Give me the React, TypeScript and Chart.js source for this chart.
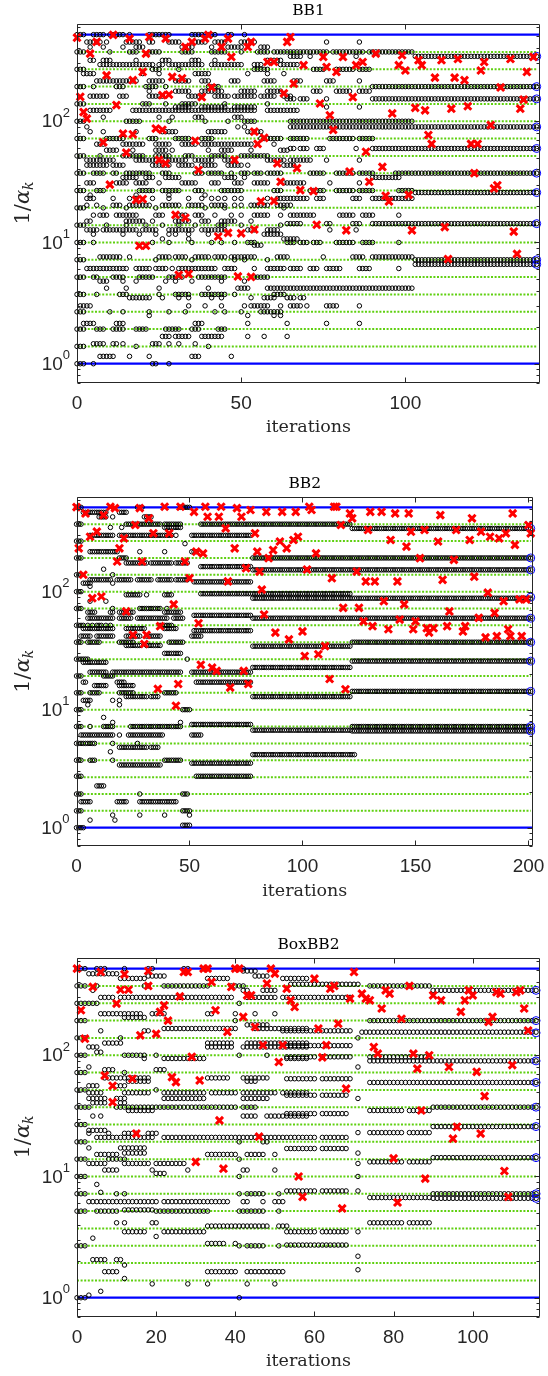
import React, { useEffect, useRef } from "react";
import { Chart, registerables } from "chart.js";

Chart.register(...registerables);

// ---------------- data ----------------
const eigenvalues = [1, 1.39, 1.93, 2.68, 3.73, 5.18, 7.2, 10, 13.9, 19.3, 26.8, 37.3, 51.8, 72, 100, 139, 193, 268, 373, 518];
const finalRitzValues = [343, 193, 153, 89.8, 59.6, 37.3, 25.8, 14.3, 7.2, 6.6];

const yMajorTicks = [1, 10, 100];
const yMajorExponents = ["0", "1", "2"];
const yMinorTicks = [0.7, 0.8, 0.9, 2, 3, 4, 5, 6, 7, 8, 9, 20, 30, 40, 50, 60, 70, 80, 90, 200, 300, 400, 500, 600];

const bb1XTicks = [0, 50, 100];
const bb2XTicks = [0, 50, 100, 150, 200];
const boxXTicks = [0, 20, 40, 60, 80, 100];

// Ritz values: [value, iterations where a circle sits at that value]
const bb1Ritz: [number, string][] = [
  [518, "0-2,5-8,10-14,16,22-28,35-39,40-42,46-47,51"],
  [450, "3-7,9,15-19,22-23,28-31,36-39,42-45,50-54,76,86"],
  [409, "4,8,14,18-20,32-35,41,46-50,56-58"],
  [373, "0-2,10,16-18,22-25,32-35,41-45,50,55-58,60-76,78-87,89-102"],
  [343, "65-68,71,85,103-140"],
  [318, "4-5,8-10,18,26-28,35-37,42,58-62"],
  [293, "7-23,25-26,28-38,41-50,54-56,62-67"],
  [268, "0-2,23-25,31,54-58,72-75,79-84,86-89"],
  [247, "2-5,20,25,36-40,52,58,63"],
  [215, "6-18,22-26,30-34,38-40,47-49,57-60,66-68,76-78,86"],
  [193, "0-2,5,12-14,21-24,27,40-43,90-140"],
  [177, "22,30-34,38-44,50-54,58-62,72-74,79-83,86-89"],
  [161, "4-9,13-15,22-26,34-38,42-46,48-54,56-60,63-65"],
  [153, "64-66,68-70,76,90-140"],
  [139, "0-2,20-22,27,32-36,45,58"],
  [131, "30-34,38-45,48-54,76,86"],
  [123, "4-10,17-28,29-54,58-67"],
  [108, "8,25,29,36-38,48-50"],
  [100, "0-2,15-19,28,39,46,51-54,65-102"],
  [89.8, "3,49,51,65-140"],
  [82, "4,8,18,26-30,40-45,52-56"],
  [72, "0-2,9-14,22-24,30-34,38-41,56-62,65-70,77-84,86-90"],
  [64.7, "6-8,14-20,24-28,32-36,38-53,60"],
  [59.6, "65-66,68-70,73-75,85,90-140"],
  [57.7, "9-12,17,24-27,29,40,44-47,53,62-64"],
  [51.8, "0-2,7,14-20,24-28,33-35,41-45,50-58"],
  [47.8, "3-11,18-24,27-33,36-41,45-48,58-63,65-71,76,86"],
  [43.4, "3-9,11-14,23-28,31-35,38-42,46-50,52,63-66"],
  [37.3, "0-2,5-8,11-12,15-22,26-28,36-38,40-44,47,50-52,54-56,58-62,71-75,79-84,86-90,97-140"],
  [34.4, "14-18,21-23,27-31,45-48,51,90-98"],
  [31, "3-5,12-15,18-21,25,32-36,41-43,48-50,54-58,63-69,77,86"],
  [26.8, "0-2,6-8,19-23,26-31,36-38,44-50,60-62,71-75,79-84,86-90,98-102"],
  [25.8, "103-140"],
  [24.6, "4,18,28,39"],
  [23.1, "3-5,11,16,18,23,28,34,38,41,43,45,48,50,58,61-70,73-75,84-86,90-97,98-102"],
  [20.3, "3,6,11-13,16-22,26-31,34-38,41-45,48,50,53-58,61-65"],
  [19.3, "0-2,8,15,24,39,45,63"],
  [16.8, "5,7-9,12-18,24-26,31-33,36-38,42,47,50,54-58,62,65-72,80-84,87-90,98"],
  [15, "3-4,15-20,23,30-34,38-40,44-48,53"],
  [14.3, "64-68,76-77,84-86,90-140"],
  [13.9, "0-2,9,15,21,26,31,36,43-45,50,62"],
  [12.7, "3-6,8-18,20-24,28-35,38-45,52-54,58-61,77,85"],
  [11.7, "5,14,19,24,28,30,34,40,57-62"],
  [10.7, "26,34,63-67"],
  [10, "0-2,5,23,28,35,41,44,48,52-54,64-66,68-70,72-74,79-84,87-90,98"],
  [9.5, "54-56"],
  [7.6, "7-13,16,25-28,30-33,36-40,42-45,47-54,61-64,75,84-87,90-102"],
  [7.2, "0-2,24,35,48,51,58,103-140"],
  [6.6, "103-140"],
  [6.1, "3-15,18-22,24-27,29,31-42,45-48,54,58-63,65-68,71-73,76-80,86-89,98"],
  [5.18, "0-2,5-6,11-14,19-23,28-32,37-45,54-58"],
  [4.8, "7-9,14,18,27,30,35,44,51"],
  [4.2, "9,15,25,40,49-52,58-102"],
  [3.73, "0-2,6,13-15,25,30-34,38-45,48,60-63"],
  [3.5, "16-22,26,31,34,41,44,53,57-60,64-66,68-69"],
  [3.0, "1-4,34,39,44,51,53-58,62,65-68,70,76-79,86"],
  [2.68, "0-2,10,14,22,28,33,42,45,50,56-62"],
  [2.5, "22,52,60,62"],
  [2.15, "2-5,12-14,36-38,52,64,76,86"],
  [1.93, "0-2,6-8,11-14,18-21,27-31,35-37,43-45"],
  [1.68, "26-28,30-34,38-44,52,57,64"],
  [1.46, "5-8,11-12,14,23-25,28,31,36"],
  [1.39, "0-2,18,40"],
  [1.15, "7-11,16,22,35-37,47"],
  [1.0, "0-2,5,23-24,28"],
];

// step lengths 1/alpha_k: [iteration, value]
const bb1Steps: [number, number][] = [
  [0, 489], [1, 159], [2, 119], [3, 105], [4, 361], [6, 451], [8, 67], [9, 239], [10, 30], [11, 515], [12, 136], [14, 79], [15, 55],
  [16, 480], [17, 78], [17, 218], [18, 22.5], [19, 9.4], [20, 255], [20, 22.8], [21, 361], [21, 9.4], [22, 495], [24, 87], [25, 48],
  [26, 164], [26, 85], [27, 480], [27, 45], [28, 166], [29, 232], [30, 16.9], [31, 5.4], [32, 226], [33, 410], [33, 16], [34, 5.5],
  [35, 451], [36, 69], [37, 39.6], [38, 158], [39, 480], [40, 515], [41, 190], [43, 11.2], [44, 410], [46, 480], [46, 12], [47, 339],
  [48, 48], [49, 5.25], [50, 11.9], [52, 410], [53, 451], [53, 5.2], [54, 82], [54, 12.8], [55, 65], [56, 21.8], [57, 73], [58, 308],
  [60, 308], [60, 22], [61, 45], [62, 31.7], [63, 170], [64, 451], [65, 495], [66, 204], [67, 41], [68, 27], [69, 290], [72, 26.5],
  [73, 14], [74, 140], [75, 339], [76, 280], [77, 112], [78, 85], [79, 255], [81, 339], [82, 12.6], [83, 38.5], [84, 158], [85, 290],
  [87, 308], [88, 56], [89, 31.7], [91, 361], [93, 42], [94, 24.3], [95, 21.8], [96, 116], [98, 290], [99, 350], [100, 262], [101, 24.7],
  [102, 12.6], [103, 129], [104, 319], [105, 290], [106, 123], [107, 77], [108, 65], [109, 229], [111, 319], [112, 13.4], [113, 7.3],
  [114, 127], [115, 229], [116, 326], [118, 218], [119, 133], [120, 65], [121, 37.3], [122, 65], [123, 262], [124, 308], [126, 93],
  [127, 27.9], [128, 29.6], [129, 190], [132, 326], [133, 12.3], [134, 8.05], [135, 127], [136, 151], [137, 255], [139, 339],
];

const bb2Ritz: [number, string][] = [
  [518, "0-2,27-29,46-50"],
  [470, "3-13,19-22"],
  [430, "10-13,16,30-33"],
  [373, "0-2,22-37,39-46,55-121"],
  [350, "15,20,39-46"],
  [343, "122-201"],
  [300, "6-16,19-42,44,51-77"],
  [268, "0-2"],
  [255, "48"],
  [218, "6-18,28,39,51-53"],
  [193, "0-2,19-22,78-201"],
  [175, "22-31,33-42,44-49"],
  [163, "55-77"],
  [155, "12"],
  [153, "78-201"],
  [139, "0-2,16"],
  [126, "6-15,18-24,27-33,36-42,44-49"],
  [121, "52-77"],
  [118, "3-6,16"],
  [111, "6"],
  [100, "0-2"],
  [96, "55-121"],
  [94, "22-28,31,39-42"],
  [88, "78-201"],
  [83, "6,13"],
  [72, "0-2,16,28-37,40"],
  [67, "5-8,15-16,19-25,39-46"],
  [63, "52-77"],
  [59.6, "5-16,19-24,27-40,43-47,78-201"],
  [51.8, "0-3,5,7,9-11,13,15,37-42"],
  [48.7, "3-16,22-30,39-44"],
  [46.7, "52-77"],
  [42, "2-6,9-16,22-28,31-37,51-55"],
  [37.3, "0-2,5-10,19-25,41-47,122-201"],
  [35, "22-28,31-37"],
  [34.5, "78-121"],
  [30, "39-46"],
  [26.8, "0-5,49"],
  [25.8, "122-201"],
  [25.2, "3-13"],
  [22.8, "78-121"],
  [20.8, "6-13,16-46,51-77"],
  [19.3, "0-2,12-16"],
  [17.1, "3-4,18-21,53-77"],
  [16, "8-13,19-25"],
  [14.3, "122-201"],
  [13.9, "0-2,6-10,19-25,39-44"],
  [12.9, "22-31,33-36,78-121"],
  [12, "3-6,16,19"],
  [11, "5,19"],
  [10, "0-2,47-50"],
  [8.6, "12"],
  [7.8, "16,46"],
  [7.5, "51-77"],
  [7.2, "0-2,6,12-16,24-46,122-201"],
  [6.7, "78-121"],
  [6.6, "122-201"],
  [6.1, "2-16,19,23-38,51-55"],
  [5.18, "0-8,16,27"],
  [4.8, "19-31,33-36"],
  [4.4, "15"],
  [4.16, "78-123"],
  [3.73, "0-2,6-8,16,39-46"],
  [3.52, "51-77"],
  [3.4, "19-37"],
  [2.73, "0-2,53-77"],
  [2.26, "9-12"],
  [1.93, "0-2,28,47-49"],
  [1.66, "2-6,18-22,28-44"],
  [1.39, "0-2,47-50"],
  [1.28, "16,28,39,50"],
  [1.16, "6,17"],
  [1.05, "47-50"],
  [1.0, "0-3"],
];

const bb2Steps: [number, number][] = [
  [0, 520], [1, 233], [3, 139], [4, 460], [6, 292], [7, 88], [9, 322], [11, 91], [12, 445], [15, 524], [17, 510], [18, 180], [19, 233],
  [21, 283], [22, 68], [25, 43], [26, 367], [28, 510], [29, 180], [30, 36], [31, 43], [32, 418], [34, 312], [36, 15], [37, 51], [39, 524],
  [41, 312], [43, 78], [44, 10.8], [45, 16.5], [46, 524], [48, 180], [50, 130], [52, 475], [53, 218], [54, 54], [55, 24], [56, 211],
  [57, 524], [58, 431], [60, 22.7], [62, 21.3], [63, 431], [64, 524], [66, 344], [67, 122], [68, 15.4], [70, 233], [71, 510], [73, 431],
  [74, 21.3], [75, 158], [76, 16.5], [77, 492], [79, 312], [80, 218], [81, 148], [82, 104], [83, 64], [84, 475], [85, 192], [87, 225],
  [88, 45], [90, 266], [91, 475], [93, 233], [94, 39.4], [96, 274], [97, 475], [98, 292], [100, 46], [101, 28.5], [102, 154], [103, 524],
  [104, 492], [106, 211], [107, 29.5], [110, 34.6], [112, 18.2], [113, 130], [114, 524], [115, 524], [117, 367], [118, 73], [119, 14.9],
  [121, 460], [122, 418], [124, 148], [125, 73], [127, 56], [128, 122], [129, 333], [130, 475], [131, 51], [132, 122], [135, 475],
  [136, 83], [138, 48], [139, 274], [141, 460], [142, 122], [143, 58], [145, 78], [146, 241], [147, 460], [148, 322], [149, 48],
  [150, 56], [152, 192], [154, 333], [155, 49], [156, 45], [158, 49], [160, 266], [161, 445], [162, 126], [164, 51], [165, 68],
  [167, 186], [168, 333], [171, 46], [172, 51], [174, 274], [175, 418], [176, 134], [178, 60], [179, 322], [181, 41], [182, 98],
  [183, 292], [185, 66], [186, 42], [187, 283], [189, 83], [190, 312], [191, 48], [192, 42], [193, 460], [194, 249], [196, 86],
  [197, 42], [199, 86], [200, 367], [201, 312],
];

const boxRitz: [number, string][] = [
  [518, "0-2,5-7,12,18-19,27-28,32-33,40-42"],
  [495, "42-45"],
  [470, "3-10"],
  [450, "18-22,45-48"],
  [430, "11-17,33-38,52-58"],
  [385, "54-71"],
  [373, "0-2,5,17-18,22-33,39-42,74-89"],
  [343, "4,42-43,47-50,90-116"],
  [300, "6-9,11-26,27-39,43-50,52-69"],
  [268, "0-5,41"],
  [220, "6-11,12-16,19-22,33-34,40,45,50"],
  [205, "12-17"],
  [193, "0-2,40,74-116"],
  [178, "43-48"],
  [166, "22-40,45-49,50-58"],
  [159, "6,17-18,52-69"],
  [155, "72-116"],
  [139, "0-2,11,71"],
  [126, "7-11,33-39,43-58"],
  [120, "53-69"],
  [117, "3-5,33-39,42-58"],
  [106, "5-6"],
  [100, "0-2,12-17,20,41,48"],
  [97, "53-60,62-69,74-89"],
  [94, "17,22-32,53-58"],
  [89.8, "74-116"],
  [80, "3,71"],
  [76, "7-9,20-22"],
  [72, "0-2,12"],
  [65, "7-18,33-38,42-48"],
  [64, "53-60,62-69"],
  [61, "13-18,43-45"],
  [59.6, "74-116"],
  [56, "3-5,10-12"],
  [51.8, "0-2,20"],
  [49, "3-6,12-18,22-32,34-40,42-50,52-58"],
  [46.8, "53-60,62-68"],
  [44, "3-7,10-12,22-32,42-48,71"],
  [40.5, "4-7,11-12"],
  [37.3, "0-3,10-33,34-40,42-45,90-116"],
  [35, "13-19,74-82,84-89"],
  [33, "53-60,62-68"],
  [31.5, "4,6,42-45,48-58"],
  [26.8, "0-2"],
  [25.8, "90-116"],
  [24, "3-7"],
  [23, "71,74-82,84-89"],
  [22.7, "3,8,12-15,18-20"],
  [21, "5-19,22-33,34-38,39-45,47-52,53-60,62-68"],
  [19.3, "0-2,41,47-48"],
  [17.2, "3,11-17"],
  [17, "53-60,62-68"],
  [15.6, "12-17,71"],
  [15.2, "5-10,33-40,43-47,50"],
  [14.3, "90-116"],
  [13.9, "0-2,8-12,41"],
  [13.2, "74-82,84-89"],
  [12.8, "3-7,12-18,20-27,71"],
  [11.3, "7-10,19,28,42-43,50"],
  [10.6, "20-22"],
  [10, "0-2,41,71"],
  [8.6, "5"],
  [7.6, "53-60,62-68,71"],
  [7.4, "6"],
  [7.2, "0-2,10,12,41,43-47,51,90-116"],
  [6.7, "74-89"],
  [6.6, "90-116"],
  [6.2, "3-20,22-38,42-43,47,50-52"],
  [5.3, "12-19"],
  [5.18, "0-2,5-10,20-33,41-47,51"],
  [4.15, "10,12,19-20,74-82,84-89"],
  [3.9, "33-48,51-53"],
  [3.5, "12-17,22-32,53-60,62-68,71"],
  [3.2, "20"],
  [3.1, "4"],
  [2.8, "33-37,40"],
  [2.72, "53-68"],
  [2.68, "0-2,41,43-47,51"],
  [2.2, "71"],
  [2.06, "4-7,10-11"],
  [1.86, "12"],
  [1.7, "71"],
  [1.64, "7-10,33-40,43-52"],
  [1.44, "12"],
  [1.3, "19,28,33,43,50"],
  [1.13, "6"],
  [1.05, "3"],
  [1.0, "0-2,41"],
];

const boxSteps: [number, number][] = [
  [0, 518], [1, 235], [2, 137], [4, 366], [6, 486], [7, 68], [9, 41], [9, 56], [10, 267], [11, 347], [12, 465], [13, 347], [14, 64],
  [15, 22.6], [16, 146], [18, 373], [18, 495], [20, 150], [21, 228], [22, 258], [23, 193], [24, 66], [25, 60], [26, 306], [27, 486],
  [28, 486], [29, 97], [30, 13.2], [31, 62], [32, 518], [33, 518], [34, 402], [35, 235], [36, 29], [37, 11.6], [38, 156], [39, 366],
  [40, 518], [41, 518], [42, 207], [43, 312], [44, 312], [45, 171], [46, 21.3], [47, 121], [48, 390], [49, 518], [50, 471], [51, 88],
  [52, 121], [53, 354], [54, 284], [55, 250], [56, 10], [57, 6.8], [60, 428], [61, 166], [62, 96], [63, 121], [64, 354], [65, 373],
  [66, 182], [67, 5.45], [68, 53], [69, 293], [70, 486], [72, 322], [73, 293], [74, 284], [75, 117], [76, 103], [77, 243], [78, 343],
  [79, 322], [80, 14.1], [81, 6.1], [82, 200], [84, 373], [85, 103], [86, 77.5], [87, 35], [88, 9.6], [89, 100], [90, 312], [92, 284],
  [94, 80], [95, 20.5], [96, 25.7], [97, 228], [98, 284], [99, 343], [100, 312], [101, 73], [102, 22.6], [103, 46], [104, 188],
  [105, 207], [106, 331], [107, 322], [108, 11.1], [109, 6.8], [110, 83], [111, 331], [112, 343], [113, 243], [114, 160],
];

// ---------------- layout / style ----------------
const PAGE_W = 548;
const Y_MIN = 0.7;
const Y_MAX = 640;

type PlotCfg = {
  title: string;
  ritz: [number, string][];
  steps: [number, number][];
  lastIter: number;
  xMax: number;
  xTicks: number[];
  top: number;
  height: number;
  area: { left: number; right: number; top: number; bottom: number };
};

const plots: PlotCfg[] = [
  { title: "BB1", ritz: bb1Ritz, steps: bb1Steps, lastIter: 140, xMax: 141, xTicks: bb1XTicks, top: 0, height: 460,
    area: { left: 77, right: 543, top: 23.5, bottom: 382.5 } },
  { title: "BB2", ritz: bb2Ritz, steps: bb2Steps, lastIter: 201, xMax: 202, xTicks: bb2XTicks, top: 460, height: 460,
    area: { left: 76.5, right: 533, top: 36.5, bottom: 386 } },
  { title: "BoxBB2", ritz: boxRitz, steps: boxSteps, lastIter: 116, xMax: 117, xTicks: boxXTicks, top: 920, height: 456,
    area: { left: 77, right: 544, top: 37.5, bottom: 396.5 } },
];

function expandRuns(runs: string): number[] {
  const out: number[] = [];
  for (const part of runs.split(",")) {
    const [a, b] = part.split("-").map(Number);
    if (b === undefined || isNaN(b)) out.push(a);
    else for (let i = a; i <= b; i++) out.push(i);
  }
  return out;
}

const AXIS_COLOR = "#262626";
const TICK_FONT = "19px 'Liberation Sans', Arial, sans-serif";
const EXP_FONT = "13px 'Liberation Sans', Arial, sans-serif";
const SERIF = "'DejaVu Serif', 'Liberation Serif', serif";

function makeAxesPlugin(cfg: PlotCfg) {
  return {
    id: "matlabAxes",
    afterDraw(chart: any) {
      const ctx: CanvasRenderingContext2D = chart.ctx;
      const { left, right, top, bottom } = chart.chartArea;
      const xs = chart.scales.x;
      const ys = chart.scales.y;
      ctx.save();
      ctx.strokeStyle = AXIS_COLOR;
      ctx.lineWidth = 1;
      const L = Math.round(left) + 0.5, R = Math.round(right) - 0.5;
      const T = Math.round(top) + 0.5, B = Math.round(bottom) - 0.5;
      ctx.beginPath();
      ctx.rect(L, T, R - L, B - T);
      ctx.stroke();
      const seg = (x1: number, y1: number, x2: number, y2: number) => {
        ctx.beginPath(); ctx.moveTo(x1, y1); ctx.lineTo(x2, y2); ctx.stroke();
      };
      for (const t of cfg.xTicks) {
        const px = Math.round(xs.getPixelForValue(t)) + 0.5;
        seg(px, B, px, B - 5);
        seg(px, T, px, T + 5);
      }
      for (const v of yMinorTicks) {
        const py = Math.round(ys.getPixelForValue(v)) + 0.5;
        seg(L, py, L + 3, py);
        seg(R, py, R - 3, py);
      }
      for (const v of yMajorTicks) {
        const py = Math.round(ys.getPixelForValue(v)) + 0.5;
        seg(L, py, L + 5, py);
        seg(R, py, R - 5, py);
      }
      ctx.fillStyle = AXIS_COLOR;
      ctx.font = TICK_FONT;
      ctx.textAlign = "center";
      ctx.textBaseline = "middle";
      for (const t of cfg.xTicks) {
        ctx.fillText(String(t), xs.getPixelForValue(t), bottom + 21);
      }
      yMajorTicks.forEach((v, i) => {
        const py = ys.getPixelForValue(v);
        const exp = yMajorExponents[i];
        ctx.font = EXP_FONT;
        const we = ctx.measureText(exp).width;
        const xr = left - 7;
        ctx.font = TICK_FONT;
        ctx.textAlign = "right";
        ctx.textBaseline = "middle";
        ctx.fillText("10", xr - we, py + 1);
        ctx.font = EXP_FONT;
        ctx.textAlign = "left";
        ctx.fillText(exp, xr - we, py - 8);
      });
      ctx.fillStyle = "#000";
      ctx.font = `15.5px ${SERIF}`;
      ctx.textAlign = "center";
      ctx.textBaseline = "middle";
      ctx.fillText(cfg.title, (left + right) / 2, top - 12.5);
      ctx.fillStyle = AXIS_COLOR;
      ctx.font = `17.5px ${SERIF}`;
      ctx.fillText("iterations", (left + right) / 2, bottom + 45);
      ctx.save();
      ctx.translate(22, (top + bottom) / 2);
      ctx.rotate(-Math.PI / 2);
      const f1 = `21px ${SERIF}`, f2 = `italic 21px ${SERIF}`, f3 = `italic 14px ${SERIF}`;
      ctx.font = f1; const w1 = ctx.measureText("1/").width;
      ctx.font = f2; const w2 = ctx.measureText("α").width;
      ctx.font = f3; const w3 = ctx.measureText("k").width;
      let x = -(w1 + w2 + w3) / 2;
      ctx.textAlign = "left";
      ctx.textBaseline = "alphabetic";
      const base = 7;
      ctx.font = f1; ctx.fillText("1/", x, base); x += w1;
      ctx.font = f2; ctx.fillText("α", x, base); x += w2;
      ctx.font = f3; ctx.fillText("k", x, base + 4);
      ctx.restore();
      ctx.restore();
    },
  };
}

function Plot({ cfg }: { cfg: PlotCfg }) {
  const ref = useRef<HTMLCanvasElement>(null);
  useEffect(() => {
    const canvas = ref.current!;
    const ritzPoints = cfg.ritz.flatMap(([v, runs]) => expandRuns(runs).map((x) => ({ x, y: v })));
    const datasets: any[] = [];
    datasets.push({
      label: "steps",
      data: cfg.steps.map(([x, y]) => ({ x, y })),
      pointStyle: "crossRot",
      pointRadius: 5,
      borderColor: "#ff0000",
      backgroundColor: "#ff0000",
      borderWidth: 3,
      order: 0,
      clip: false,
    });
    datasets.push({
      label: "final",
      data: finalRitzValues.map((v) => ({ x: cfg.lastIter, y: v })),
      pointStyle: "circle",
      pointRadius: 4,
      borderColor: "#0000ff",
      backgroundColor: "rgba(0,0,0,0)",
      borderWidth: 1,
      order: 1,
      clip: false,
    });
    datasets.push({
      label: "ritz",
      data: ritzPoints,
      pointStyle: "circle",
      pointRadius: 2.25,
      borderColor: "#000000",
      backgroundColor: "rgba(0,0,0,0)",
      borderWidth: 1,
      order: 2,
      clip: false,
    });
    [eigenvalues[0], eigenvalues[eigenvalues.length - 1]].forEach((v) => {
      datasets.push({
        label: "bound",
        data: [{ x: 0, y: v }, { x: cfg.xMax, y: v }],
        showLine: true,
        borderColor: "#0000ff",
        borderWidth: 2.2,
        pointRadius: 0,
        order: 3,
      });
    });
    eigenvalues.slice(1, -1).forEach((v) => {
      datasets.push({
        label: "eig",
        data: [{ x: 0, y: v }, { x: cfg.lastIter, y: v }],
        showLine: true,
        borderColor: "#5fd010",
        borderWidth: 2,
        borderDash: [2, 1.6],
        pointRadius: 0,
        order: 4,
      });
    });
    const a = cfg.area;
    const chart = new Chart(canvas, {
      type: "scatter",
      data: { datasets },
      options: {
        animation: false,
        responsive: false,
        events: [],
        layout: { padding: { left: a.left, right: PAGE_W - a.right, top: a.top, bottom: cfg.height - a.bottom } },
        scales: {
          x: { type: "linear", min: 0, max: cfg.xMax, display: false },
          y: { type: "logarithmic", min: Y_MIN, max: Y_MAX, display: false },
        },
        plugins: { legend: { display: false }, tooltip: { enabled: false } },
      },
      plugins: [makeAxesPlugin(cfg)],
    } as any);
    return () => chart.destroy();
  }, [cfg]);
  return (
    <canvas
      ref={ref}
      width={PAGE_W}
      height={cfg.height}
      style={{ position: "absolute", left: 0, top: cfg.top, width: PAGE_W, height: cfg.height }}
    />
  );
}

export default function App() {
  return (
    <div style={{ position: "absolute", left: 0, top: 0, width: PAGE_W, height: 1376, background: "#fff" }}>
      {plots.map((p) => (
        <Plot key={p.title} cfg={p} />
      ))}
    </div>
  );
}
